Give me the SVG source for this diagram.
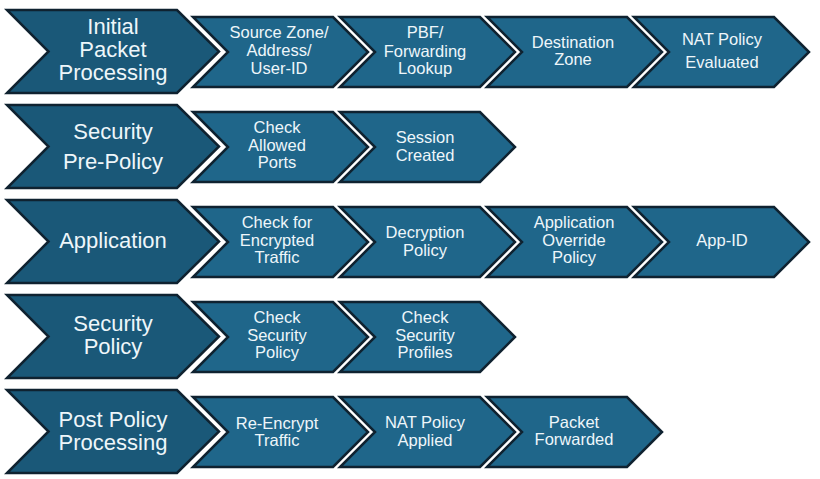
<svg xmlns="http://www.w3.org/2000/svg" xmlns:xlink="http://www.w3.org/1999/xlink" width="820" height="479" viewBox="0 0 820 479">
<style>
  .big { fill: #1a5878; stroke: #0f2230; stroke-width: 2.5; stroke-linejoin: miter; }
  .sm { fill: #1f668a; stroke: #0f2230; stroke-width: 2.5; stroke-linejoin: miter; }
  text { font-family: "Liberation Sans", Arial, sans-serif; fill: #eef6fa; text-anchor: middle; }
  .bt { font-size: 22px; }
  .st { font-size: 16.5px; }
</style>
<defs>
  <path id="bigc" d="M0,0 L170,0 L212,41.5 L170,83 L0,83 L41.5,41.5 Z"/>
  <path id="smc" d="M0,0 L140,0 L175,35 L140,70 L0,70 L35,35 Z"/>
</defs>
<rect x="0" y="0" width="820" height="479" fill="#ffffff"/>
<g id="connectors"/>

<!-- Row 1 -->
<g id="initial-packet-processing">
  <use href="#bigc" x="7" y="10" class="big"/>
  <text class="bt" x="113" y="34">Initial</text>
  <text class="bt" x="113" y="57">Packet</text>
  <text class="bt" x="113" y="80">Processing</text>
</g>
<g id="source-zone">
  <use href="#smc" x="193" y="17" class="sm"/>
  <text class="st" x="279" y="38">Source Zone/</text>
  <text class="st" x="279" y="56">Address/</text>
  <text class="st" x="279" y="74">User-ID</text>
</g>
<g id="pbf-lookup">
  <use href="#smc" x="340" y="17" class="sm"/>
  <text class="st" x="425" y="38">PBF/</text>
  <text class="st" x="425" y="57">Forwarding</text>
  <text class="st" x="425" y="74">Lookup</text>
</g>
<g id="destination-zone">
  <use href="#smc" x="487" y="17" class="sm"/>
  <text class="st" x="573" y="48">Destination</text>
  <text class="st" x="573" y="65">Zone</text>
</g>
<g id="nat-policy-evaluated">
  <use href="#smc" x="634" y="17" class="sm"/>
  <text class="st" x="722" y="45">NAT Policy</text>
  <text class="st" x="722" y="68">Evaluated</text>
</g>

<!-- Row 2 -->
<g id="security-pre-policy">
  <use href="#bigc" x="7" y="105" class="big"/>
  <text class="bt" x="113" y="139">Security</text>
  <text class="bt" x="113" y="169">Pre-Policy</text>
</g>
<g id="check-allowed-ports">
  <use href="#smc" x="193" y="112" class="sm"/>
  <text class="st" x="277" y="133">Check</text>
  <text class="st" x="277" y="151">Allowed</text>
  <text class="st" x="277" y="168">Ports</text>
</g>
<g id="session-created">
  <use href="#smc" x="340" y="112" class="sm"/>
  <text class="st" x="425" y="143">Session</text>
  <text class="st" x="425" y="161">Created</text>
</g>

<!-- Row 3 -->
<g id="application">
  <use href="#bigc" x="7" y="200" class="big"/>
  <text class="bt" x="113" y="248">Application</text>
</g>
<g id="check-encrypted-traffic">
  <use href="#smc" x="193" y="207" class="sm"/>
  <text class="st" x="277" y="228">Check for</text>
  <text class="st" x="277" y="246">Encrypted</text>
  <text class="st" x="277" y="263">Traffic</text>
</g>
<g id="decryption-policy">
  <use href="#smc" x="340" y="207" class="sm"/>
  <text class="st" x="425" y="238">Decryption</text>
  <text class="st" x="425" y="256">Policy</text>
</g>
<g id="application-override-policy">
  <use href="#smc" x="487" y="207" class="sm"/>
  <text class="st" x="574" y="228">Application</text>
  <text class="st" x="574" y="246">Override</text>
  <text class="st" x="574" y="263">Policy</text>
</g>
<g id="app-id">
  <use href="#smc" x="634" y="207" class="sm"/>
  <text class="st" x="722" y="246">App-ID</text>
</g>

<!-- Row 4 -->
<g id="security-policy">
  <use href="#bigc" x="7" y="295" class="big"/>
  <text class="bt" x="113" y="331">Security</text>
  <text class="bt" x="113" y="354">Policy</text>
</g>
<g id="check-security-policy">
  <use href="#smc" x="193" y="302" class="sm"/>
  <text class="st" x="277" y="323">Check</text>
  <text class="st" x="277" y="341">Security</text>
  <text class="st" x="277" y="358">Policy</text>
</g>
<g id="check-security-profiles">
  <use href="#smc" x="340" y="302" class="sm"/>
  <text class="st" x="425" y="323">Check</text>
  <text class="st" x="425" y="341">Security</text>
  <text class="st" x="425" y="358">Profiles</text>
</g>

<!-- Row 5 -->
<g id="post-policy-processing">
  <use href="#bigc" x="7" y="390" class="big"/>
  <text class="bt" x="113" y="427">Post Policy</text>
  <text class="bt" x="113" y="450">Processing</text>
</g>
<g id="re-encrypt-traffic">
  <use href="#smc" x="193" y="397" class="sm"/>
  <text class="st" x="277" y="429">Re-Encrypt</text>
  <text class="st" x="277" y="446">Traffic</text>
</g>
<g id="nat-policy-applied">
  <use href="#smc" x="340" y="397" class="sm"/>
  <text class="st" x="425" y="428">NAT Policy</text>
  <text class="st" x="425" y="446">Applied</text>
</g>
<g id="packet-forwarded">
  <use href="#smc" x="487" y="397" class="sm"/>
  <text class="st" x="574" y="428">Packet</text>
  <text class="st" x="574" y="445">Forwarded</text>
</g>
</svg>
